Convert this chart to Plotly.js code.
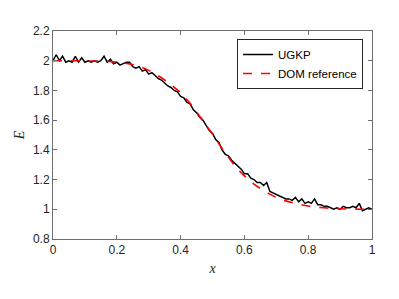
<!DOCTYPE html>
<html>
<head>
<meta charset="utf-8">
<script src="https://cdn.plot.ly/plotly-3.0.1.min.js"></script>
<style>html,body{margin:0;padding:0;background:#fff;}#chart{width:399px;height:299px;}</style>
</head>
<body>
<div id="chart"></div>
<script>
// UGKP solution (x step 0.01)
var ugkpX = [];
for (var i = 0; i <= 100; i++) { ugkpX.push(i / 100); }
var ugkpE = [
  2.00, 2.04, 2.00, 2.03, 1.99, 2.00, 1.99, 2.03, 1.99, 2.02,
  1.99, 2.00, 1.99, 2.00, 1.99, 2.00, 2.03, 1.99, 2.01, 1.98,
  1.99, 1.97, 1.98, 1.99, 1.99, 1.96, 1.95, 1.96, 1.93, 1.94,
  1.91, 1.92, 1.90, 1.88, 1.87, 1.85, 1.83, 1.82, 1.80, 1.79,
  1.76, 1.75, 1.72, 1.71, 1.67, 1.65, 1.62, 1.60, 1.56, 1.53,
  1.51, 1.47, 1.45, 1.40, 1.37, 1.36, 1.33, 1.31, 1.29, 1.27,
  1.24, 1.24, 1.21, 1.20, 1.18, 1.18, 1.16, 1.18, 1.12, 1.11,
  1.10, 1.09, 1.08, 1.07, 1.07, 1.06, 1.08, 1.05, 1.07, 1.04,
  1.05, 1.04, 1.07, 1.03, 1.03, 1.02, 1.02, 1.01, 1.00, 1.01,
  1.00, 1.02, 1.01, 1.01, 1.02, 1.01, 1.04, 0.99, 1.00, 1.01,
  1.00
];
// DOM reference
var domX = [0, 0.025, 0.05, 0.075, 0.1, 0.125, 0.15, 0.175, 0.2, 0.225, 0.25, 0.275,
  0.3, 0.325, 0.35, 0.375, 0.4, 0.425, 0.45, 0.475, 0.5, 0.525, 0.55, 0.575, 0.6,
  0.625, 0.65, 0.675, 0.7, 0.725, 0.75, 0.775, 0.8, 0.825, 0.85, 0.875, 0.9, 0.925,
  0.95, 0.975, 1.0];
var domE = [2.000, 2.000, 2.000, 2.000, 1.999, 1.998, 1.997, 1.995, 1.990, 1.984, 1.975, 1.958,
  1.935, 1.905, 1.870, 1.830, 1.785, 1.725, 1.655, 1.580, 1.505, 1.425, 1.350, 1.280, 1.225,
  1.178, 1.140, 1.107, 1.080, 1.060, 1.045, 1.032, 1.022, 1.015, 1.010, 1.006, 1.004, 1.002,
  1.001, 1.000, 1.000];
var xTicks = [0, 0.2, 0.4, 0.6, 0.8, 1];
var xTickText = ['0', '0.2', '0.4', '0.6', '0.8', '1'];
var yTicks = [0.8, 1, 1.2, 1.4, 1.6, 1.8, 2, 2.2];
var yTickText = ['0.8', '1', '1.2', '1.4', '1.6', '1.8', '2', '2.2'];

var traces = [
  {x: ugkpX, y: ugkpE, type: 'scatter', mode: 'lines', name: 'UGKP',
   line: {color: '#000000', width: 1.5}},
  {x: domX, y: domE, type: 'scatter', mode: 'lines', name: 'DOM reference',
   line: {color: '#ff0000', width: 1.6, dash: 'dash', shape: 'spline'}}
];
var axisCommon = {
  showline: true, linecolor: '#6e6e6e', linewidth: 1, mirror: 'ticks',
  ticks: 'inside', ticklen: 4, tickcolor: '#6e6e6e', tickwidth: 1,
  showgrid: false, zeroline: false,
  tickfont: {family: 'Liberation Sans, Arial, sans-serif', size: 12, color: '#262626'}
};
var layout = {
  width: 399, height: 299,
  margin: {l: 53, r: 27, t: 31, b: 60},
  paper_bgcolor: '#ffffff', plot_bgcolor: '#ffffff',
  showlegend: true,
  legend: {x: 0.972, y: 0.9615, xanchor: 'right', yanchor: 'top',
    bgcolor: '#ffffff', bordercolor: '#262626', borderwidth: 1,
    font: {family: 'Liberation Sans, Arial, sans-serif', size: 11.5, color: '#000'},
    tracegroupgap: 0, itemwidth: 30},
  xaxis: Object.assign({}, axisCommon, {range: [0, 1], tickvals: xTicks, ticktext: xTickText,
    title: {text: '<i>x</i>', standoff: 6, font: {family: 'Liberation Serif, Times New Roman, serif', size: 14, color: '#262626'}}}),
  yaxis: Object.assign({}, axisCommon, {range: [0.8, 2.2], tickvals: yTicks, ticktext: yTickText,
    title: {text: '<i>E</i>', standoff: 5, font: {family: 'Liberation Serif, Times New Roman, serif', size: 14, color: '#262626'}}})
};
Plotly.newPlot('chart', traces, layout, {displayModeBar: false, staticPlot: true});
</script>
</body>
</html>
